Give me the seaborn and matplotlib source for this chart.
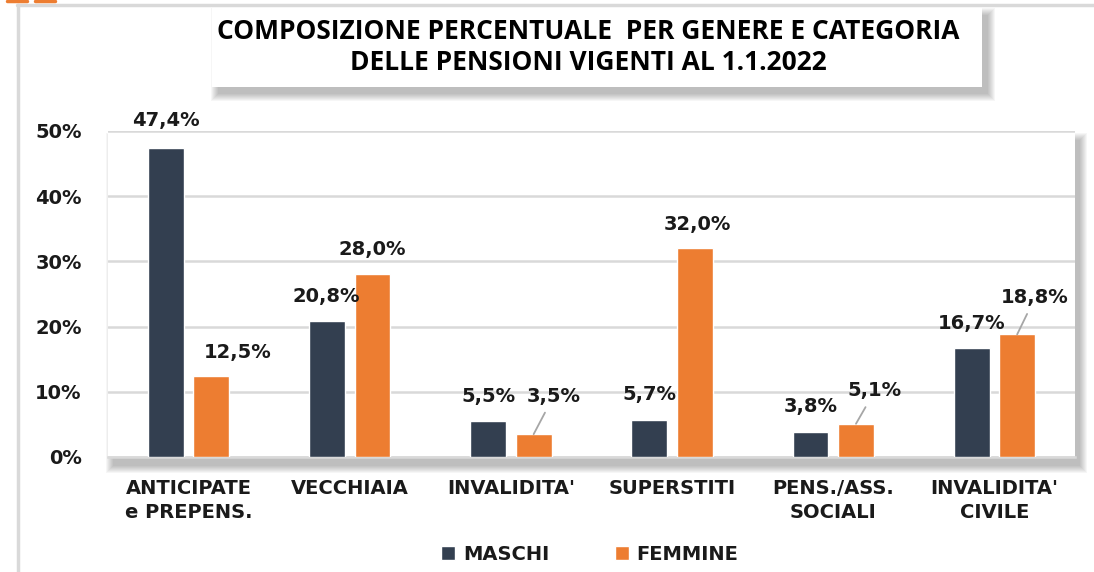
import pandas as pd
import matplotlib.pyplot as plt
import seaborn as sns
from matplotlib.patches import Rectangle
from matplotlib.lines import Line2D

# --- dati ---
CATEGORIE = ["ANTICIPATE\ne PREPENS.", "VECCHIAIA", "INVALIDITA'", "SUPERSTITI",
             "PENS./ASS.\nSOCIALI", "INVALIDITA'\nCIVILE"]
MASCHI = [47.4, 20.8, 5.5, 5.7, 3.8, 16.7]
FEMMINE = [12.5, 28.0, 3.5, 32.0, 5.1, 18.8]
GENERI = ["MASCHI", "FEMMINE"]
Y_TICKS = [0, 10, 20, 30, 40, 50]
TITOLO = "COMPOSIZIONE PERCENTUALE  PER GENERE E CATEGORIA\nDELLE PENSIONI VIGENTI AL 1.1.2022"

PALETTE = {"MASCHI": "#333F50", "FEMMINE": "#ED7D31"}
GRID = "#D9D9D9"
TXT = "#1A1A1A"

# spostamento etichette (pixel) rispetto alla cima della barra, e se serve la linea guida
OFFSET_M = [(0, 27), (-1, 25), (0, 25), (0, 25), (0, 26), (0, 25)]
OFFSET_F = [(26, 23), (0, 25), (20, 38), (3, 24), (19, 33), (18, 37)]
LEADER_F = [False, False, True, False, True, True]

W, H = 1094, 572
df = pd.DataFrame({
    "categoria": CATEGORIE * 2,
    "genere": ["MASCHI"] * len(CATEGORIE) + ["FEMMINE"] * len(CATEGORIE),
    "valore": MASCHI + FEMMINE,
})

sns.set_style("white")
plt.rcParams["font.family"] = ["DejaVu Sans"]
plt.rcParams["text.color"] = TXT

fig = plt.figure(figsize=(W / 100, H / 100), dpi=100)
fig.patch.set_facecolor("white")

def px(x0, y0, x1, y1):
    # rettangolo in pixel (origine in alto a sinistra) -> coordinate figura
    return (x0 / W, 1 - y1 / H), (x1 - x0) / W, (y1 - y0) / H

def shadow(x0, y0, x1, y1, dx=6, dy=8, n=8):
    # ombra sfumata: rettangoli sovrapposti sempre più larghi
    for i in range(n):
        xy, w, h = px(x0 + dx - i, y0 + dy - i, x1 + dx + i, y1 + dy + i)
        fig.patches.append(Rectangle(xy, w, h, transform=fig.transFigure,
                                     facecolor="#303030", edgecolor="none",
                                     alpha=0.045, zorder=-2))

# cornice esterna
fig.add_artist(Line2D([17 / W, 1], [1 - 5 / H, 1 - 5 / H], color=GRID, lw=2.5, transform=fig.transFigure))
fig.add_artist(Line2D([18 / W, 18 / W], [0, 1 - 5 / H], color=GRID, lw=2.5, transform=fig.transFigure))
for a, b in [(7, 27), (35, 55)]:
    fig.add_artist(Line2D([a / W, b / W], [1 - 1 / H, 1 - 1 / H], color="#ED7D31", lw=2.5, transform=fig.transFigure))

# area del grafico
AX = (108, 131, 1075, 457)
ax = fig.add_axes([AX[0] / W, 1 - AX[3] / H, (AX[2] - AX[0]) / W, (AX[3] - AX[1]) / H])
ax.set_facecolor("white")
shadow(*AX, dx=5, dy=9)

sns.barplot(data=df, x="categoria", y="valore", hue="genere", hue_order=GENERI,
            palette=PALETTE, width=0.564, gap=0.21, saturation=1, ax=ax, zorder=3)

ax.set_ylim(0, 50)
ax.set_xlim(-0.5, 5.5)
ax.set_yticks(Y_TICKS)
ax.set_yticklabels([f"{t}%" for t in Y_TICKS])
ax.yaxis.grid(True, color=GRID, lw=1.8, zorder=0)
ax.set_axisbelow(True)
for s in ["top", "right", "left"]:
    ax.spines[s].set_visible(False)
ax.spines["bottom"].set_color(GRID)
ax.spines["bottom"].set_linewidth(1.8)
ax.tick_params(axis="y", length=0, pad=19, labelsize=14, labelcolor=TXT)
ax.tick_params(axis="x", length=0, pad=16, labelsize=14, labelcolor=TXT)
for t in ax.get_yticklabels():
    t.set_fontweight("bold")
for t in ax.get_xticklabels():
    t.set_fontweight("bold")
    t.set_linespacing(1.35)
ax.set_xlabel("")
ax.set_ylabel("")

# etichette dati
for cont, vals, offs, leaders in [(ax.containers[0], MASCHI, OFFSET_M, [False] * 6),
                                  (ax.containers[1], FEMMINE, OFFSET_F, LEADER_F)]:
    for bar, v, (dx, dy), lead in zip(cont.patches, vals, offs, leaders):
        xc = bar.get_x() + bar.get_width() / 2
        arrow = dict(arrowstyle="-", color="#A6A6A6", lw=1.3, shrinkA=3, shrinkB=0) if lead else None
        ax.annotate(f"{v:.1f}%".replace(".", ","), xy=(xc, bar.get_height()),
                    xytext=(dx, dy), textcoords="offset pixels",
                    ha="center", va="center", fontsize=14, fontweight="bold",
                    color=TXT, arrowprops=arrow, zorder=5)

# legenda
sns.move_legend(ax, "center", bbox_to_anchor=((590 - AX[0]) / (AX[2] - AX[0]), -(554 - AX[3]) / (AX[3] - AX[1])),
                ncol=2, frameon=False, title=None, fontsize=14, handlelength=0.7,
                handleheight=0.7, handletextpad=0.4, columnspacing=3.4)
for t in ax.get_legend().get_texts():
    t.set_fontweight("bold")
    t.set_color(TXT)

# titolo in riquadro con ombra
TB = (212, 8, 982, 87)
shadow(*TB, dx=6, dy=7)
xy, w, h = px(*TB)
fig.patches.append(Rectangle(xy, w, h, transform=fig.transFigure,
                             facecolor="white", edgecolor="none", zorder=-1))
fig.text(588 / W, 1 - 47 / H, TITOLO, ha="center", va="center", fontsize=19,
         fontweight="bold", family=["Open Sans", "DejaVu Sans"], linespacing=1.15,
         color="black")

fig.savefig("out.png", dpi=100)
